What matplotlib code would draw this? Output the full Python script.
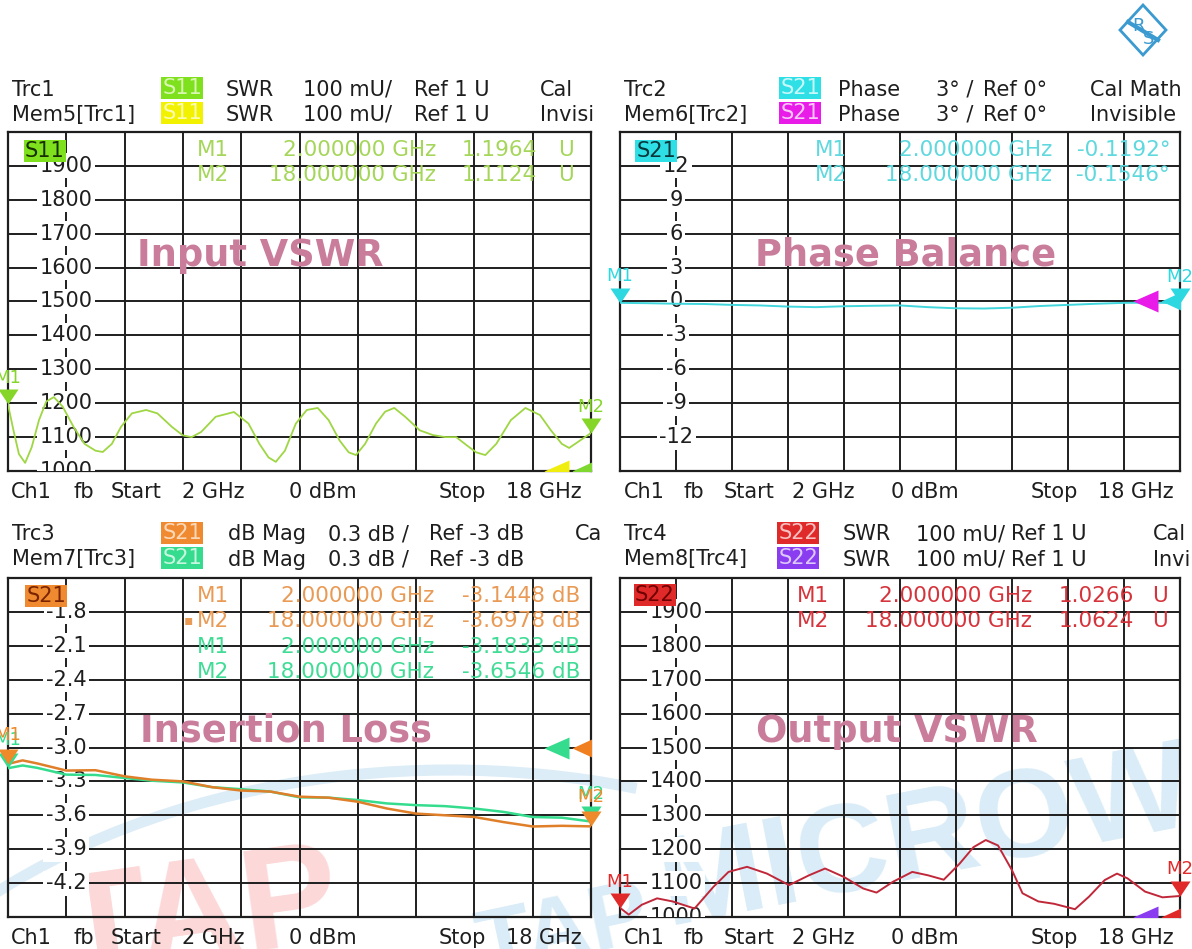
import numpy as np
import matplotlib
matplotlib.use("Agg")
import matplotlib.pyplot as plt
from matplotlib.patches import Polygon, Arc

plt.rcParams['font.family'] = ['DejaVu Sans']

W, H = 1192, 949

# ---- values ----
marker_freq = [2.0, 18.0]

s11_freq = [2.0, 2.15, 2.3, 2.47, 2.65, 2.85, 3.05, 3.26, 3.5, 3.8,
            4.1, 4.4, 4.6, 4.85, 5.1, 5.4, 5.79, 6.1, 6.5, 6.8,
            7.04, 7.3, 7.7, 8.2, 8.6, 8.9, 9.15, 9.35, 9.6, 9.9,
            10.2, 10.5, 10.8, 11.1, 11.35, 11.55, 11.8, 12.1, 12.35, 12.6,
            12.9, 13.3, 13.66, 14.0, 14.3, 14.6, 14.85, 15.1, 15.4, 15.8,
            16.2, 16.6, 16.9, 17.2, 17.4, 17.7, 18.0]
s11_vswr = [1.196, 1.12, 1.05, 1.024, 1.07, 1.15, 1.205, 1.218, 1.19, 1.13,
            1.08, 1.06, 1.056, 1.08, 1.13, 1.17, 1.18, 1.17, 1.13, 1.105,
            1.10, 1.115, 1.16, 1.174, 1.14, 1.08, 1.04, 1.027, 1.06, 1.14,
            1.18, 1.186, 1.15, 1.09, 1.055, 1.047, 1.08, 1.14, 1.175, 1.186,
            1.16, 1.12, 1.106, 1.10, 1.10, 1.075, 1.055, 1.047, 1.08, 1.15,
            1.186, 1.165, 1.12, 1.08, 1.068, 1.09, 1.112]
s11_mark = [1.1964, 1.1124]

phase_freq = [2.0, 2.8, 3.6, 4.4, 5.2, 6.0, 6.8, 7.6, 8.4, 9.2, 10.0,
              10.8, 11.6, 12.4, 13.2, 14.0, 14.8, 15.6, 16.4, 17.2, 18.0]
phase_deg = [-0.12, -0.15, -0.2, -0.22, -0.3, -0.35, -0.45, -0.5, -0.42, -0.38, -0.35,
             -0.5, -0.6, -0.62, -0.55, -0.4, -0.3, -0.2, -0.12, -0.1, -0.155]
phase_mark = [-0.1192, -0.1546]

il_freq = [2.0, 2.4, 2.8, 3.6, 4.4, 5.2, 5.95, 6.8, 7.6, 8.4, 9.2,
           10.0, 10.8, 11.6, 12.4, 13.2, 14.0, 14.8, 15.6, 16.4, 17.2, 18.0]
il_trc3 = [-3.145, -3.114, -3.141, -3.204, -3.201, -3.255, -3.285, -3.30, -3.351, -3.381, -3.39,
           -3.435, -3.444, -3.48, -3.54, -3.585, -3.60, -3.615, -3.66, -3.699, -3.693, -3.698]
il_mem7 = [-3.183, -3.159, -3.18, -3.24, -3.243, -3.27, -3.294, -3.309, -3.351, -3.369, -3.39,
           -3.441, -3.444, -3.465, -3.495, -3.51, -3.519, -3.54, -3.57, -3.615, -3.621, -3.655]
il_trc3_mark = [-3.1448, -3.6978]
il_mem7_mark = [-3.1833, -3.6546]

s22_freq = [2.0, 2.25, 2.62, 3.06, 3.5, 4.13, 4.67, 5.1, 5.63, 6.2,
            6.83, 7.4, 7.86, 8.4, 8.95, 9.33, 9.8, 10.35, 10.8, 11.25,
            11.7, 12.1, 12.45, 12.8, 13.2, 13.5, 13.95, 14.4, 15.0, 15.4,
            15.85, 16.2, 16.5, 17.0, 17.5, 18.0]
s22_vswr = [1.027, 1.007, 1.036, 1.055, 1.046, 1.025, 1.089, 1.133, 1.148, 1.128,
            1.094, 1.123, 1.143, 1.118, 1.084, 1.072, 1.104, 1.133, 1.123, 1.110,
            1.157, 1.206, 1.227, 1.211, 1.138, 1.07, 1.046, 1.039, 1.023, 1.06,
            1.109, 1.128, 1.114, 1.075, 1.058, 1.062]
s22_mark = [1.0266, 1.0624]

vswr_ticks = [1.9, 1.8, 1.7, 1.6, 1.5, 1.4, 1.3, 1.2, 1.1, 1.0]
vswr_labels = ["1900", "1800", "1700", "1600", "1500", "1400", "1300", "1200", "1100", "1000"]
phase_ticks = [12, 9, 6, 3, 0, -3, -6, -9, -12]
phase_labels = ["12", "9", "6", "3", "0", "-3", "-6", "-9", "-12"]
il_ticks = [-1.8, -2.1, -2.4, -2.7, -3.0, -3.3, -3.6, -3.9, -4.2]
il_labels = ["-1.8", "-2.1", "-2.4", "-2.7", "-3.0", "-3.3", "-3.6", "-3.9", "-4.2"]

INK = '#1e1e1e'


def px_marker(verts):
    # marker drawn in pixel units around the data point
    return verts, 2 * max(abs(c) for v in verts for c in v) * 0.72


DOWN, DOWN_MS = px_marker([(-10, 15), (10, 15), (0, 0)])
MEM_REF, MEM_MS = px_marker([(-47, 0), (-22, 11), (-22, -11)])
TRC_REF, TRC_MS = px_marker([(-19, 0), (5, 11), (5, -11)])


def put(ax, x, y, s, size=15, color=INK, ha='left', **kw):
    return ax.text(x, y + 0.36 * size / 0.72, s, fontsize=size, color=color,
                   ha=ha, va='baseline', **kw)


def boxed(ax, x, y, s, fc, tc, size=15):
    ax.text(x, y, s, fontsize=size, color=tc, ha='center', va='center',
            bbox=dict(boxstyle='square,pad=0.06', fc=fc, ec='none'))


fig = plt.figure(figsize=(W / 100, H / 100), dpi=100)
fig.patch.set_facecolor('white')

bg = fig.add_axes([0, 0, 1, 1], zorder=0)
ov = fig.add_axes([0, 0, 1, 1], zorder=2)
for a in (bg, ov):
    a.set_xlim(0, W)
    a.set_ylim(H, 0)
    a.axis('off')

# watermark and logo
WM = ['Liberation Sans', 'DejaVu Sans']
bg.add_patch(Arc((450, 1250), 1360, 960, theta1=212, theta2=292,
                 color='#dcedf7', lw=8))
bg.text(200, 978, "TAP", fontsize=105, fontweight='bold', color='#fcd8d8',
        rotation=8, ha='center', va='baseline', family=WM)
bg.text(470, 975, "TAP", fontsize=65, fontweight='bold', color='#d9ecf7',
        rotation=12, ha='left', va='baseline', family=WM)
bg.text(650, 925, "MICROWAVE", fontsize=91, fontweight='bold', color='#d9ecf7',
        rotation=11, ha='left', va='baseline', family=WM)
ov.add_patch(Polygon([(1143, 5), (1166, 30), (1143, 55), (1120, 30)], closed=True,
                     fc='none', ec='#3b9ad0', lw=2))
ov.plot([1128, 1158], [22, 40], color='#3b9ad0', lw=3)
ov.text(1139, 26, "R", fontsize=13, color='#3b9ad0', ha='center', va='center')
ov.text(1149, 39, "S", fontsize=13, color='#3b9ad0', ha='center', va='center')


def panel(box, ylim, ticks, labels):
    x0, y0, x1, y1 = box
    ax = fig.add_axes([x0 / W, 1 - y1 / H, (x1 - x0) / W, (y1 - y0) / H], zorder=1)
    ax.set_facecolor('none')
    xg = np.linspace(2, 18, 11)
    ax.set_xlim(2, 18)
    ax.set_ylim(*ylim)
    ax.set_xticks(xg)
    ax.set_yticks(np.linspace(ylim[0], ylim[1], 11))
    ax.set_axisbelow(True)
    ax.grid(True, color=INK, lw=1.4)
    ax.tick_params(length=0, labelbottom=False, labelleft=False)
    for s in ax.spines.values():
        s.set_color(INK)
        s.set_linewidth(1.6)
    for v, lab in zip(ticks, labels):
        ax.text(xg[1], v, lab, ha='center', va='center', fontsize=15, color=INK,
                bbox=dict(boxstyle='square,pad=0.12', fc='white', ec='none'),
                clip_on=True, zorder=3)
    return ax


def markers(ax, vals, color, dy=19):
    for i, (f, v) in enumerate(zip(marker_freq, vals)):
        ax.plot([f], [v], marker=DOWN, ms=DOWN_MS, color=color, mew=0,
                clip_on=False, zorder=6)
        ax.annotate(f"M{i + 1}", (f, v), xytext=(0, dy), textcoords='offset points',
                    ha='center', va='center', fontsize=13, color=color,
                    annotation_clip=False, zorder=6)


def ref_arrows(ax, ref, mem_color, trc_color):
    ax.plot([18], [ref], marker=MEM_REF, ms=MEM_MS, color=mem_color, mew=0, zorder=5)
    ax.plot([18], [ref], marker=TRC_REF, ms=TRC_MS, color=trc_color, mew=0, zorder=5)


def footer(y, xs):
    words = ["Ch1", "fb", "Start", "2 GHz", "0 dBm", "Stop", "18 GHz"]
    for x, w in zip(xs, words):
        put(ov, x, y, w)


def header(y, x_name, name, x_box, tag, fc, tc, xs, words):
    put(ov, x_name, y, name)
    boxed(ov, x_box, y, tag, fc, tc)
    for x, w in zip(xs, words):
        put(ov, x, y, w)


# ---- Input VSWR ----
ax1 = panel((8, 132, 591, 471), (1.0, 2.0), vswr_ticks, vswr_labels)
ax1.plot(s11_freq, s11_vswr, color='#9fd644', lw=1.3, zorder=4)
ref_arrows(ax1, 1.0, '#f0ee10', '#7fd830')
markers(ax1, s11_mark, '#86d629')
header(88, 12, "Trc1", 182, "S11", '#7fe01e', '#d8f7b0',
       [226, 303, 414, 540], ["SWR", "100 mU/", "Ref 1 U", "Cal"])
header(113, 12, "Mem5[Trc1]", 182, "S11", '#f2f200', '#fbfbb0',
       [226, 303, 414, 540], ["SWR", "100 mU/", "Ref 1 U", "Invisi"])
boxed(ov, 45, 151, "S11", '#7fe01e', '#163000')
for i, (y, f, v) in enumerate(zip([148, 173], marker_freq, s11_mark)):
    c = '#a5d65a'
    put(ov, 197, y, f"M{i + 1}", 15.5, c)
    put(ov, 436, y, f"{f:.6f} GHz", 15.5, c, ha='right')
    put(ov, 537, y, f"{v:.4f}", 15.5, c, ha='right')
    put(ov, 558, y, "U", 15.5, c)
footer(490, [11, 73, 111, 182, 289, 439, 506])
ov.text(260, 266, "Input VSWR", fontsize=26.5, fontweight='bold', color='#c97d9b',
        ha='center', va='baseline')

# ---- Phase Balance ----
ax2 = panel((620, 132, 1180, 471), (-15, 15), phase_ticks, phase_labels)
ax2.plot(phase_freq, phase_deg, color='#40d6dc', lw=1.4, zorder=4)
ref_arrows(ax2, 0, '#e81be8', '#2ed8e0')
markers(ax2, phase_mark, '#2ed8e0')
header(88, 624, "Trc2", 800, "S21", '#2ee0e6', '#c8f8fa',
       [838, 936, 983, 1090], ["Phase", "3° /", "Ref 0°", "Cal Math"])
header(113, 624, "Mem6[Trc2]", 800, "S21", '#e81be8', '#f8c8f8',
       [838, 936, 983, 1090], ["Phase", "3° /", "Ref 0°", "Invisible"])
boxed(ov, 656, 151, "S21", '#2ee0e6', '#08363a')
for i, (y, f, v) in enumerate(zip([148, 173], marker_freq, phase_mark)):
    c = '#5fd8de'
    put(ov, 815, y, f"M{i + 1}", 15.5, c)
    put(ov, 1052, y, f"{f:.6f} GHz", 15.5, c, ha='right')
    put(ov, 1170, y, f"{v:.4f}°", 15.5, c, ha='right')
footer(490, [624, 684, 724, 792, 891, 1031, 1098])
ov.text(906, 266, "Phase Balance", fontsize=26.5, fontweight='bold', color='#c97d9b',
        ha='center', va='baseline')

# ---- Insertion Loss ----
ax3 = panel((8, 578, 591, 917), (-4.5, -1.5), il_ticks, il_labels)
ax3.plot(il_freq, il_mem7, color='#35dc8e', lw=1.8, zorder=4)
ax3.plot(il_freq, il_trc3, color='#e07f2a', lw=1.8, zorder=4)
ref_arrows(ax3, -3.0, '#35dc8e', '#f07f20')
markers(ax3, il_mem7_mark, '#35dc8e', dy=20)
markers(ax3, il_trc3_mark, '#ee8a2a', dy=21)
header(533, 12, "Trc3", 182, "S21", '#f08a30', '#fbd8b8',
       [228, 328, 429, 575], ["dB Mag", "0.3 dB /", "Ref -3 dB", "Ca"])
header(558, 12, "Mem7[Trc3]", 182, "S21", '#35dc8e', '#c8f6e0',
       [228, 328, 429], ["dB Mag", "0.3 dB /", "Ref -3 dB"])
boxed(ov, 46, 596, "S21", '#f08a30', '#7a2400')
il_rows = [(594, il_trc3_mark[0], 0, '#e99a55'), (619, il_trc3_mark[1], 1, '#e99a55'),
           (645, il_mem7_mark[0], 0, '#40db95'), (670, il_mem7_mark[1], 1, '#40db95')]
for y, v, i, c in il_rows:
    put(ov, 197, y, f"M{i + 1}", 15.5, c)
    put(ov, 434, y, f"{marker_freq[i]:.6f} GHz", 15.5, c, ha='right')
    put(ov, 580, y, f"{v:.4f} dB", 15.5, c, ha='right')
put(ov, 184, 619, "▪", 10, '#e99a55')
footer(937, [11, 73, 111, 182, 289, 439, 506])
ov.text(286, 742, "Insertion Loss", fontsize=26.5, fontweight='bold', color='#c97d9b',
        ha='center', va='baseline')

# ---- Output VSWR ----
ax4 = panel((620, 578, 1180, 917), (1.0, 2.0), vswr_ticks, vswr_labels)
ax4.plot(s22_freq, s22_vswr, color='#c0283a', lw=1.4, zorder=4)
ref_arrows(ax4, 1.0, '#8a3cf0', '#e02a2a')
markers(ax4, s22_mark, '#e02a2a')
header(533, 624, "Trc4", 798, "S22", '#e02a2a', '#f8c0c0',
       [843, 916, 1011, 1153], ["SWR", "100 mU/", "Ref 1 U", "Cal"])
header(558, 624, "Mem8[Trc4]", 798, "S22", '#8a3cf0', '#dcc8fa',
       [843, 916, 1011, 1153], ["SWR", "100 mU/", "Ref 1 U", "Invi"])
boxed(ov, 655, 595, "S22", '#e02a2a', '#700000')
for i, (y, f, v) in enumerate(zip([594, 619], marker_freq, s22_mark)):
    c = '#d6343c'
    put(ov, 797, y, f"M{i + 1}", 15.5, c)
    put(ov, 1032, y, f"{f:.6f} GHz", 15.5, c, ha='right')
    put(ov, 1134, y, f"{v:.4f}", 15.5, c, ha='right')
    put(ov, 1152, y, "U", 15.5, c)
footer(937, [624, 684, 724, 792, 891, 1031, 1098])
ov.text(897, 742, "Output VSWR", fontsize=26.5, fontweight='bold', color='#c97d9b',
        ha='center', va='baseline')

fig.savefig("out.png", dpi=100, facecolor='white')
